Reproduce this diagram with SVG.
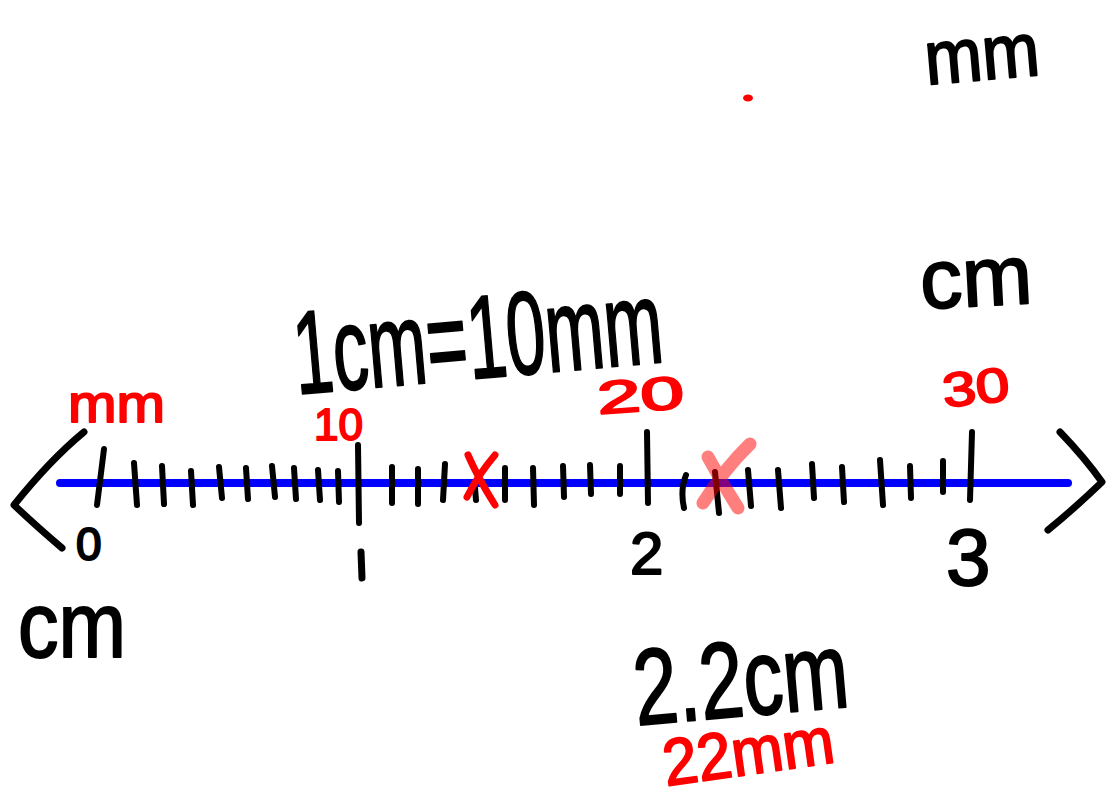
<svg xmlns="http://www.w3.org/2000/svg" width="1106" height="810" viewBox="0 0 1106 810">
<style>
.ink{fill:none;stroke:#000;stroke-width:7;stroke-linecap:round;stroke-linejoin:round}
.tick{fill:none;stroke:#000;stroke-width:6;stroke-linecap:round}
.blk{font-family:"Liberation Sans",Arial,sans-serif;fill:#000;stroke:#000;stroke-width:2;stroke-linejoin:round}
.red{font-family:"Liberation Sans",Arial,sans-serif;fill:#ff0000;stroke:#ff0000;stroke-width:2;stroke-linejoin:round}
.rx{fill:none;stroke:#ff0000;stroke-width:7;stroke-linecap:round}
</style>
<rect width="1106" height="810" fill="#fff"/>
<g id="axis">
<line x1="60" y1="483" x2="1068" y2="483" stroke="#0000ff" stroke-width="8" stroke-linecap="round"/>
<path class="ink" d="M84,432 Q50,460 14,505 Q35,525 62,548"/>
<path class="ink" d="M1060,432 Q1085,458 1102,482 Q1075,508 1048,530"/>
</g>
<g id="ticks">
<path class="tick" d="M104,449 L97,505 M358,445 L359,523 M647,432 L648,503 M972,432 L970,500"/>
<path class="tick" d="M134,463 L137,505 M162,466 L164,504 M191,471 L193,505 M219,467 L222,498 M246,468 L248,499 M272,466 L275,497 M294,468 L296,499 M318,470 L320,500 M338,471 L339,502"/>
<path class="tick" d="M392,467 L392,503 M418,469 L418,504 M445,464 L443,500 M475,488 L476,500 M505,468 L505,500 M533,468 L534,505 M563,466 L564,497 M590,465 L591,494 M620,466 L620,494"/>
<path class="tick" d="M686,475 Q680,490 684,508 M715,472 L719,513 M748,470 L751,506 M778,470 L781,508 M812,464 L814,498 M842,467 L844,502 M880,460 L883,505 M910,466 L911,498 M943,461 L943,492"/>
</g>
<g id="marks">
<path class="rx" d="M495,455 Q478,475 467,497 M468,455 Q478,478 495,505"/>
<path d="M750,444 Q725,468 703,503 M708,457 Q722,483 738,508" fill="none" stroke="#ff0000" stroke-opacity="0.5" stroke-width="13" stroke-linecap="round"/>
<ellipse cx="748" cy="98" rx="5" ry="3.5" fill="#ff0000"/>
</g>
<g id="labels">
<text class="blk" x="76" y="560" font-size="46">0</text>
<path class="ink" d="M361,552 L362,578"/>
<text class="blk" x="630" y="574" font-size="60">2</text>
<text class="blk" x="946" y="585" font-size="80">3</text>
<text class="blk" x="18" y="657" font-size="92" textLength="108" lengthAdjust="spacingAndGlyphs">cm</text>
<text class="red" x="68" y="422" font-size="54" textLength="97" lengthAdjust="spacingAndGlyphs">mm</text>
<text class="red" x="314" y="440" font-size="44">10</text>
<text class="red" x="597" y="411" font-size="46" transform="rotate(-4 640 395)" textLength="87" lengthAdjust="spacingAndGlyphs">20</text>
<text class="red" x="942" y="404" font-size="48" transform="rotate(-6 975 385)" textLength="67" lengthAdjust="spacingAndGlyphs">30</text>
<text class="blk" x="924" y="80" font-size="76" transform="rotate(-5 980 50)" textLength="115" lengthAdjust="spacingAndGlyphs">mm</text>
<text class="blk" x="920" y="306" font-size="84" transform="rotate(-3 975 280)">cm</text>
<text class="blk" x="292" y="378" font-size="118" transform="rotate(-5 480 330)" textLength="370" lengthAdjust="spacingAndGlyphs">1cm=10mm</text>
<text class="blk" x="632" y="716" font-size="108" transform="rotate(-5 740 665)" textLength="215" lengthAdjust="spacingAndGlyphs">2.2cm</text>
<text class="red" x="662" y="774" font-size="66" transform="rotate(-8 750 750)" textLength="172" lengthAdjust="spacingAndGlyphs">22mm</text>
</g>
</svg>
